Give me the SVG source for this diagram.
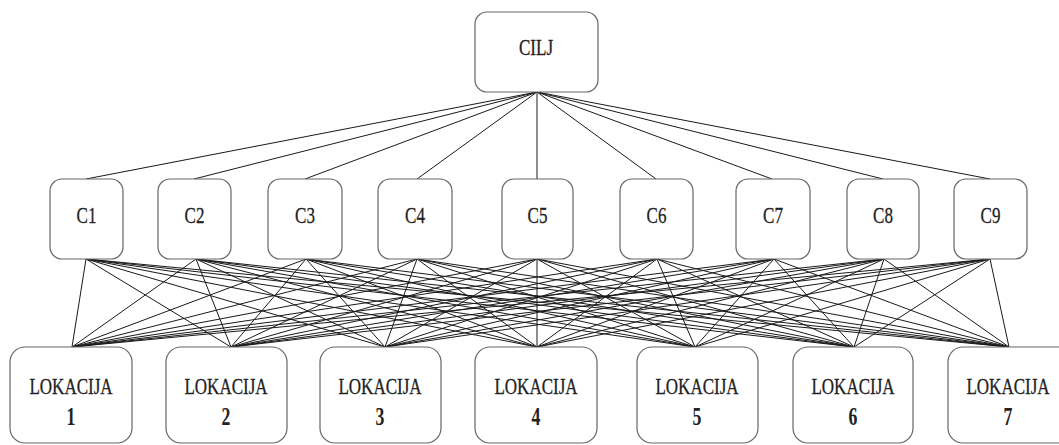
<svg xmlns="http://www.w3.org/2000/svg" width="1059" height="445" viewBox="0 0 1059 445">
<style>
.box{fill:#fff;stroke:#666;stroke-width:1.2}
.lbl{font-family:"Liberation Serif","Times New Roman",serif;font-size:24px;fill:#222;stroke:#222;stroke-width:0.3;text-anchor:middle}
.num{font-family:"Liberation Serif","Times New Roman",serif;font-size:25px;font-weight:bold;fill:#222;text-anchor:middle}
.cn line{stroke:#1a1a1a;stroke-width:1}
</style>
<rect width="1059" height="445" fill="#fff"/>
<g class="cn" id="connectors">
<line x1="537" y1="92" x2="86" y2="179"/>
<line x1="537" y1="92" x2="194" y2="179"/>
<line x1="537" y1="92" x2="305" y2="179"/>
<line x1="537" y1="92" x2="417" y2="179"/>
<line x1="537" y1="92" x2="537" y2="179"/>
<line x1="537" y1="92" x2="656" y2="179"/>
<line x1="537" y1="92" x2="772" y2="179"/>
<line x1="537" y1="92" x2="883" y2="179"/>
<line x1="537" y1="92" x2="990" y2="179"/>
<g id="c1-links"><line x1="86" y1="259" x2="72" y2="347"/><line x1="86" y1="259" x2="231" y2="347"/><line x1="86" y1="259" x2="385" y2="347"/><line x1="86" y1="259" x2="537" y2="347"/><line x1="86" y1="259" x2="695" y2="347"/><line x1="86" y1="259" x2="854" y2="347"/><line x1="86" y1="259" x2="1009" y2="347"/></g>
<g id="c2-links"><line x1="196" y1="259" x2="72" y2="347"/><line x1="196" y1="259" x2="231" y2="347"/><line x1="196" y1="259" x2="385" y2="347"/><line x1="196" y1="259" x2="537" y2="347"/><line x1="196" y1="259" x2="695" y2="347"/><line x1="196" y1="259" x2="854" y2="347"/><line x1="196" y1="259" x2="1009" y2="347"/></g>
<g id="c3-links"><line x1="306" y1="259" x2="72" y2="347"/><line x1="306" y1="259" x2="231" y2="347"/><line x1="306" y1="259" x2="385" y2="347"/><line x1="306" y1="259" x2="537" y2="347"/><line x1="306" y1="259" x2="695" y2="347"/><line x1="306" y1="259" x2="854" y2="347"/><line x1="306" y1="259" x2="1009" y2="347"/></g>
<g id="c4-links"><line x1="417" y1="259" x2="72" y2="347"/><line x1="417" y1="259" x2="231" y2="347"/><line x1="417" y1="259" x2="385" y2="347"/><line x1="417" y1="259" x2="537" y2="347"/><line x1="417" y1="259" x2="695" y2="347"/><line x1="417" y1="259" x2="854" y2="347"/><line x1="417" y1="259" x2="1009" y2="347"/></g>
<g id="c5-links"><line x1="537" y1="259" x2="72" y2="347"/><line x1="537" y1="259" x2="231" y2="347"/><line x1="537" y1="259" x2="385" y2="347"/><line x1="537" y1="259" x2="537" y2="347"/><line x1="537" y1="259" x2="695" y2="347"/><line x1="537" y1="259" x2="854" y2="347"/><line x1="537" y1="259" x2="1009" y2="347"/></g>
<g id="c6-links"><line x1="657" y1="259" x2="72" y2="347"/><line x1="657" y1="259" x2="231" y2="347"/><line x1="657" y1="259" x2="385" y2="347"/><line x1="657" y1="259" x2="537" y2="347"/><line x1="657" y1="259" x2="695" y2="347"/><line x1="657" y1="259" x2="854" y2="347"/><line x1="657" y1="259" x2="1009" y2="347"/></g>
<g id="c7-links"><line x1="774" y1="259" x2="72" y2="347"/><line x1="774" y1="259" x2="231" y2="347"/><line x1="774" y1="259" x2="385" y2="347"/><line x1="774" y1="259" x2="537" y2="347"/><line x1="774" y1="259" x2="695" y2="347"/><line x1="774" y1="259" x2="854" y2="347"/><line x1="774" y1="259" x2="1009" y2="347"/></g>
<g id="c8-links"><line x1="884" y1="259" x2="72" y2="347"/><line x1="884" y1="259" x2="231" y2="347"/><line x1="884" y1="259" x2="385" y2="347"/><line x1="884" y1="259" x2="537" y2="347"/><line x1="884" y1="259" x2="695" y2="347"/><line x1="884" y1="259" x2="854" y2="347"/><line x1="884" y1="259" x2="1009" y2="347"/></g>
<g id="c9-links"><line x1="990" y1="259" x2="72" y2="347"/><line x1="990" y1="259" x2="231" y2="347"/><line x1="990" y1="259" x2="385" y2="347"/><line x1="990" y1="259" x2="537" y2="347"/><line x1="990" y1="259" x2="695" y2="347"/><line x1="990" y1="259" x2="854" y2="347"/><line x1="990" y1="259" x2="1009" y2="347"/></g>
</g>
<g id="cilj"><rect class="box" x="475" y="12" width="123" height="80" rx="12"/><text class="lbl" transform="translate(536,55) scale(0.71,1)">CILJ</text></g>
<g id="c1"><rect class="box" x="50" y="179" width="73" height="80" rx="12"/><text class="lbl" transform="translate(86.5,223) scale(0.71,1)">C1</text></g>
<g id="c2"><rect class="box" x="158" y="179" width="73" height="80" rx="12"/><text class="lbl" transform="translate(194.5,223) scale(0.71,1)">C2</text></g>
<g id="c3"><rect class="box" x="268" y="179" width="74" height="80" rx="12"/><text class="lbl" transform="translate(305,223) scale(0.71,1)">C3</text></g>
<g id="c4"><rect class="box" x="378" y="179" width="74" height="80" rx="12"/><text class="lbl" transform="translate(415,223) scale(0.71,1)">C4</text></g>
<g id="c5"><rect class="box" x="502" y="179" width="71" height="80" rx="12"/><text class="lbl" transform="translate(537.5,223) scale(0.71,1)">C5</text></g>
<g id="c6"><rect class="box" x="620" y="179" width="73" height="80" rx="12"/><text class="lbl" transform="translate(656.5,223) scale(0.71,1)">C6</text></g>
<g id="c7"><rect class="box" x="736" y="179" width="74" height="80" rx="12"/><text class="lbl" transform="translate(773,223) scale(0.71,1)">C7</text></g>
<g id="c8"><rect class="box" x="847" y="179" width="72" height="80" rx="12"/><text class="lbl" transform="translate(883,223) scale(0.71,1)">C8</text></g>
<g id="c9"><rect class="box" x="954" y="179" width="73" height="80" rx="12"/><text class="lbl" transform="translate(990.5,223) scale(0.71,1)">C9</text></g>
<g id="l1"><rect class="box" x="10" y="347" width="122" height="96" rx="15"/><text class="lbl" transform="translate(71,394) scale(0.71,1)">LOKACIJA</text><text class="num" transform="translate(71,425) scale(0.71,1)">1</text></g>
<g id="l2"><rect class="box" x="166" y="347" width="121" height="96" rx="15"/><text class="lbl" transform="translate(226,394) scale(0.71,1)">LOKACIJA</text><text class="num" transform="translate(226,425) scale(0.71,1)">2</text></g>
<g id="l3"><rect class="box" x="320" y="347" width="121" height="96" rx="15"/><text class="lbl" transform="translate(380,394) scale(0.71,1)">LOKACIJA</text><text class="num" transform="translate(380,425) scale(0.71,1)">3</text></g>
<g id="l4"><rect class="box" x="475" y="347" width="122" height="96" rx="15"/><text class="lbl" transform="translate(536,394) scale(0.71,1)">LOKACIJA</text><text class="num" transform="translate(536,425) scale(0.71,1)">4</text></g>
<g id="l5"><rect class="box" x="637" y="347" width="121" height="96" rx="15"/><text class="lbl" transform="translate(697,394) scale(0.71,1)">LOKACIJA</text><text class="num" transform="translate(697,425) scale(0.71,1)">5</text></g>
<g id="l6"><rect class="box" x="793" y="347" width="120" height="96" rx="15"/><text class="lbl" transform="translate(853,394) scale(0.71,1)">LOKACIJA</text><text class="num" transform="translate(853,425) scale(0.71,1)">6</text></g>
<g id="l7"><rect class="box" x="948" y="347" width="140" height="96" rx="15"/><text class="lbl" transform="translate(1008,394) scale(0.71,1)">LOKACIJA</text><text class="num" transform="translate(1008,425) scale(0.71,1)">7</text></g>
</svg>
